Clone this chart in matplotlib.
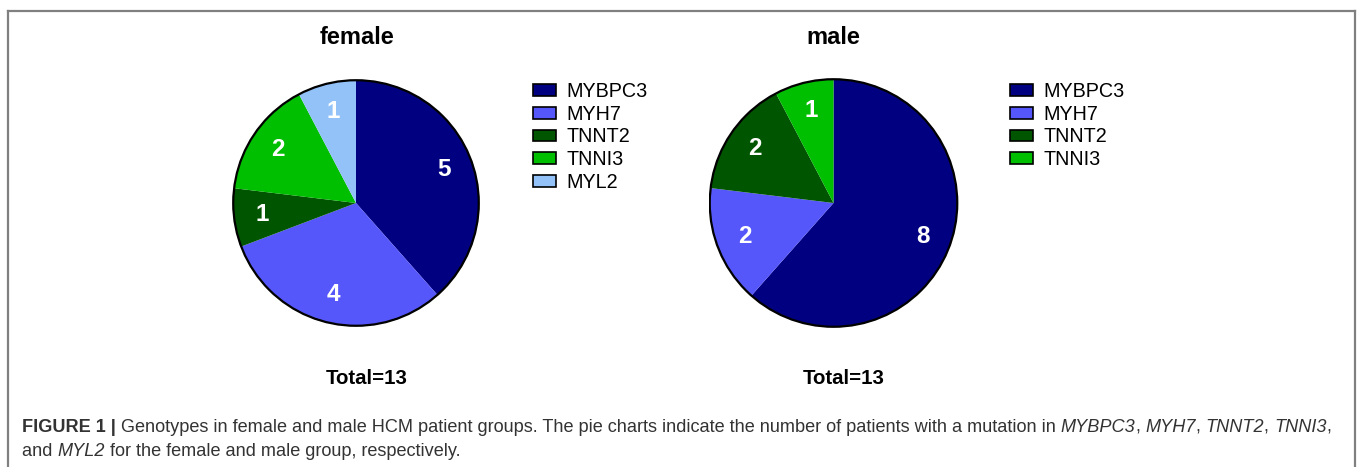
import matplotlib.pyplot as plt
from matplotlib.patches import Patch, Circle
from matplotlib.lines import Line2D

plt.rcParams['font.family'] = ['Liberation Sans', 'DejaVu Sans']

# data
female_genes = ['MYBPC3', 'MYH7', 'TNNT2', 'TNNI3', 'MYL2']
female_counts = [5, 4, 1, 2, 1]
male_genes = ['MYBPC3', 'MYH7', 'TNNT2', 'TNNI3']
male_counts = [8, 2, 2, 1]
gene_colors = {'MYBPC3': '#000080', 'MYH7': '#5657FA', 'TNNT2': '#005500',
               'TNNI3': '#00BE00', 'MYL2': '#92C2F8'}

W, H = 1357, 467
fig = plt.figure(figsize=(W / 100, H / 100), dpi=100)


def draw_pie(cx, cy, r, genes, counts, title, title_x, total_x, leg_x):
    ax = fig.add_axes([(cx - r) / W, (H - cy - r) / H, 2 * r / W, 2 * r / H])
    cols = [gene_colors[g] for g in genes]
    ax.pie(counts, colors=cols, startangle=90, counterclock=False,
           labels=[str(c) for c in counts], labeldistance=0.77,
           wedgeprops=dict(linewidth=0),
           textprops=dict(color='white', fontsize=17.5, fontweight='bold',
                          ha='center', va='center'))
    ax.add_patch(Circle((0, 0), 1, fill=False, edgecolor='black', linewidth=1.6))
    ax.set_xlim(-1.01, 1.01)
    ax.set_ylim(-1.01, 1.01)
    ax.set_aspect('equal')
    ax.axis('off')
    fig.text(title_x / W, 1 - 38 / H, title, fontsize=17, fontweight='bold',
             ha='center', va='center')
    fig.text(total_x / W, 1 - 378 / H, 'Total=13', fontsize=14.7, fontweight='bold',
             ha='center', va='center')
    handles = [Patch(facecolor=gene_colors[g], edgecolor='black', linewidth=1.2)
               for g in genes]
    fig.legend(handles, genes, loc='upper left', bbox_to_anchor=(leg_x / W, 1 - 82 / H),
               frameon=False, fontsize=14.2, handlelength=1.15, handleheight=0.55,
               handletextpad=0.55, labelspacing=0.19, borderaxespad=0, borderpad=0)


draw_pie(356, 203, 124, female_genes, female_counts, 'female', 357, 367, 533)
draw_pie(833.5, 203, 125, male_genes, male_counts, 'male', 833, 844, 1010)

# frame around the figure panel
frame_col = '#808080'
x0, x1, y0 = 8 / W, 1355 / W, 1 - 11 / H
for xs, ys in [([x0, x0], [0, y0]), ([x0, x1], [y0, y0]), ([x1, x1], [y0, 0])]:
    fig.add_artist(Line2D(xs, ys, color=frame_col, linewidth=1.6, transform=fig.transFigure))

# caption, written piece by piece so gene names can be italic
cap_lines = [
    [('FIGURE 1 | ', 'bold', 'normal'),
     ('Genotypes in female and male HCM patient groups. The pie charts indicate the number '
      'of patients with a mutation in ', 'normal', 'normal'),
     ('MYBPC3', 'normal', 'italic'), (', ', 'normal', 'normal'),
     ('MYH7', 'normal', 'italic'), (', ', 'normal', 'normal'),
     ('TNNT2', 'normal', 'italic'), (', ', 'normal', 'normal'),
     ('TNNI3', 'normal', 'italic'), (',', 'normal', 'normal')],
    [('and ', 'normal', 'normal'), ('MYL2', 'normal', 'italic'),
     (' for the female and male group, respectively.', 'normal', 'normal')],
]
cap_y = [427, 452]
renderer = fig.canvas.get_renderer()
for parts, yy in zip(cap_lines, cap_y):
    xpos = 22
    for txt, wt, st in parts:
        t = fig.text(xpos / W, 1 - yy / H, txt, fontsize=13.1, color='#333333',
                     fontweight=wt, fontstyle=st, ha='left', va='center')
        xpos += t.get_window_extent(renderer).width

fig.savefig('out.png', dpi=100)
